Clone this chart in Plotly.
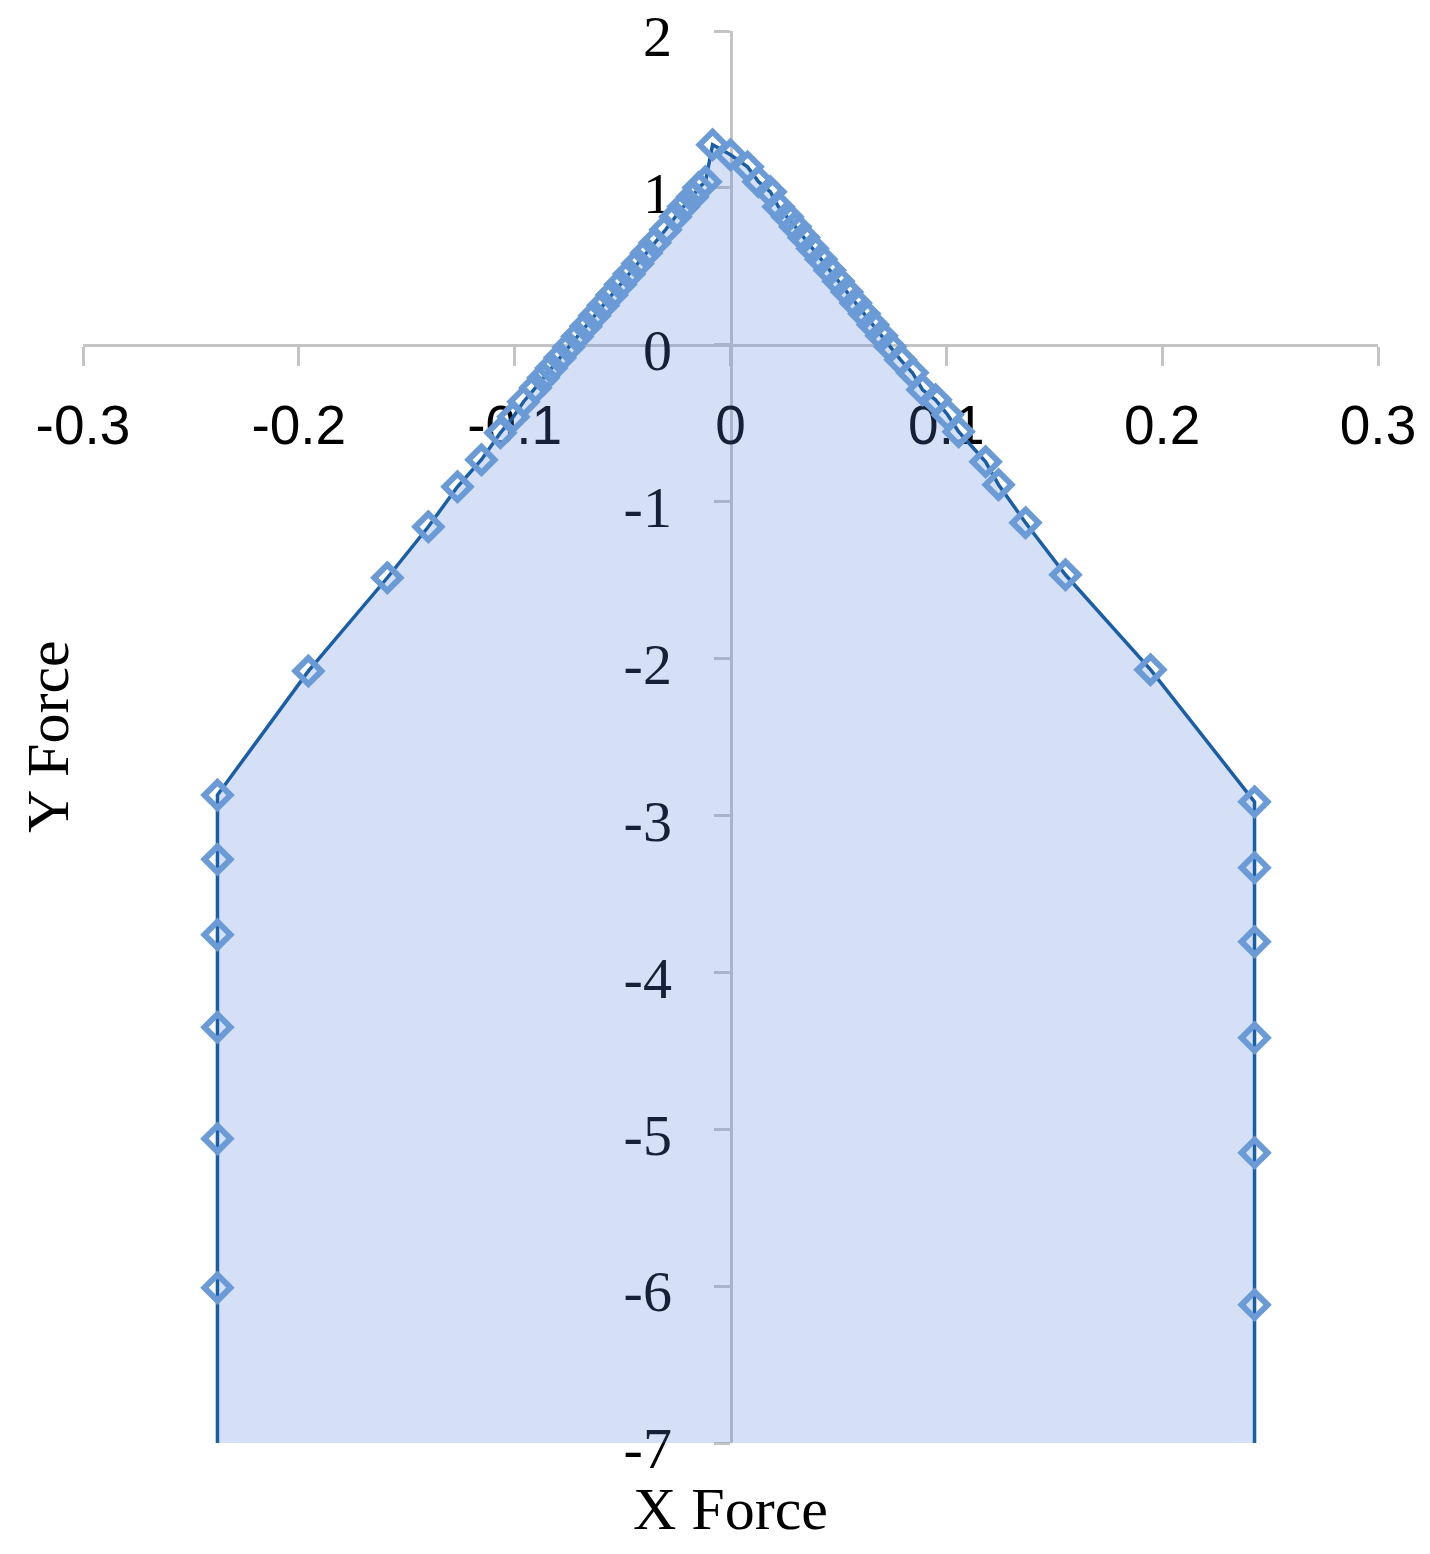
"""Force envelope plot (X force vs Y force)."""
import plotly.graph_objects as go

# left vertical edge, left diagonal, peak, right diagonal, right vertical edge
x_force = [
    -0.2377, -0.2377, -0.2377, -0.2377, -0.2377, -0.2377, -0.2377,
    -0.1956, -0.1590, -0.1400, -0.1265, -0.1154,
    -0.1066, -0.1006, -0.0959, -0.0904, -0.0867,
    -0.0830, -0.0790, -0.0750, -0.0710, -0.0670, -0.0630, -0.0590,
    -0.0550, -0.0510, -0.0470, -0.0430, -0.0390, -0.0350,
    -0.0301, -0.0255, -0.0218, -0.0176, -0.0148, -0.0116,
    -0.0083,
    0.0000, 0.0079, 0.0130, 0.0185, 0.0222, 0.0264,
    0.0300, 0.0340, 0.0380, 0.0420, 0.0460, 0.0500, 0.0540,
    0.0580, 0.0620, 0.0660, 0.0700, 0.0740, 0.0788,
    0.0843, 0.0890, 0.0950, 0.1006, 0.1057, 0.1182, 0.1242,
    0.1367, 0.1552, 0.1946,
    0.2428, 0.2428, 0.2428, 0.2428, 0.2428, 0.2428, 0.2428,
]
y_force = [
    -7.5, -6.01, -5.06, -4.35, -3.76, -3.28, -2.87,
    -2.08, -1.485, -1.16, -0.905, -0.733,
    -0.561, -0.459, -0.363, -0.274, -0.210,
    -0.148, -0.082, -0.015, 0.052, 0.118, 0.185, 0.251,
    0.318, 0.385, 0.451, 0.518, 0.585, 0.651,
    0.733, 0.816, 0.880, 0.943, 1.001, 1.039,
    1.275,
    1.211, 1.134, 1.039, 0.975, 0.880, 0.816,
    0.753, 0.684, 0.614, 0.545, 0.475, 0.405, 0.336,
    0.266, 0.197, 0.127, 0.057, -0.012, -0.096,
    -0.178, -0.287, -0.351, -0.446, -0.554, -0.746, -0.892,
    -1.134, -1.466, -2.071,
    -2.913, -3.333, -3.805, -4.417, -5.150, -6.119, -7.5,
]

x_ticks = [-0.3, -0.2, -0.1, 0, 0.1, 0.2, 0.3]
x_tick_labels = ["-0.3", "-0.2", "-0.1", "0", "0.1", "0.2", "0.3"]
y_ticks = [2, 1, 0, -1, -2, -3, -4, -5, -6, -7]
y_tick_labels = ["2", "1", "0", "-1", "-2", "-3", "-4", "-5", "-6", "-7"]

x_range = [-0.3, 0.3]
y_range = [-7, 2]

fig = go.Figure()
fig.add_trace(go.Scatter(
    x=x_force, y=y_force, mode="lines+markers", fill="toself",
    fillcolor="rgba(87,131,219,0.25)",
    line=dict(color="#1a5ea8", width=3.5),
    marker=dict(symbol="diamond-open", size=20, color="#6b9bd6",
                line=dict(color="#6b9bd6", width=6)),
    showlegend=False,
))

# axes cross at the origin, like the original spreadsheet chart
fig.update_layout(
    width=1430, height=1554,
    margin=dict(l=75, r=60, t=23, b=119),
    paper_bgcolor="white", plot_bgcolor="white",
    xaxis=dict(
        range=x_range, tickvals=x_ticks, ticktext=x_tick_labels,
        anchor="free", position=(0 - y_range[0]) / (y_range[1] - y_range[0]),
        automargin=False, ticklabeloverflow="allow",
        showgrid=False, zeroline=False, showline=True,
        linecolor="#c4c4c4", linewidth=3,
        ticks="outside", ticklen=19, tickwidth=3, tickcolor="#c4c4c4",
        ticklabelstandoff=12, layer="below traces",
        tickfont=dict(family="Liberation Sans", size=55, color="black"),
    ),
    yaxis=dict(
        range=y_range, tickvals=y_ticks, ticktext=y_tick_labels,
        anchor="free", position=(0 - x_range[0]) / (x_range[1] - x_range[0]),
        automargin=False, ticklabeloverflow="allow",
        showgrid=False, zeroline=False, showline=True,
        linecolor="#c4c4c4", linewidth=3,
        ticks="outside", ticklen=16, tickwidth=3, tickcolor="#c4c4c4",
        ticklabelstandoff=30, ticklabelshift=5, layer="below traces",
        tickfont=dict(family="Liberation Serif", size=58, color="black"),
    ),
    annotations=[
        dict(text="X Force", xref="paper", yref="paper", x=0.5, y=-0.047,
             xanchor="center", yanchor="middle", showarrow=False,
             font=dict(family="Liberation Serif", size=60, color="black")),
        dict(text="Y Force", xref="paper", yref="paper", x=-0.027, y=0.500,
             xanchor="center", yanchor="middle", textangle=-90, showarrow=False,
             font=dict(family="Liberation Serif", size=60, color="black")),
    ],
)

fig.write_html("out.html")
